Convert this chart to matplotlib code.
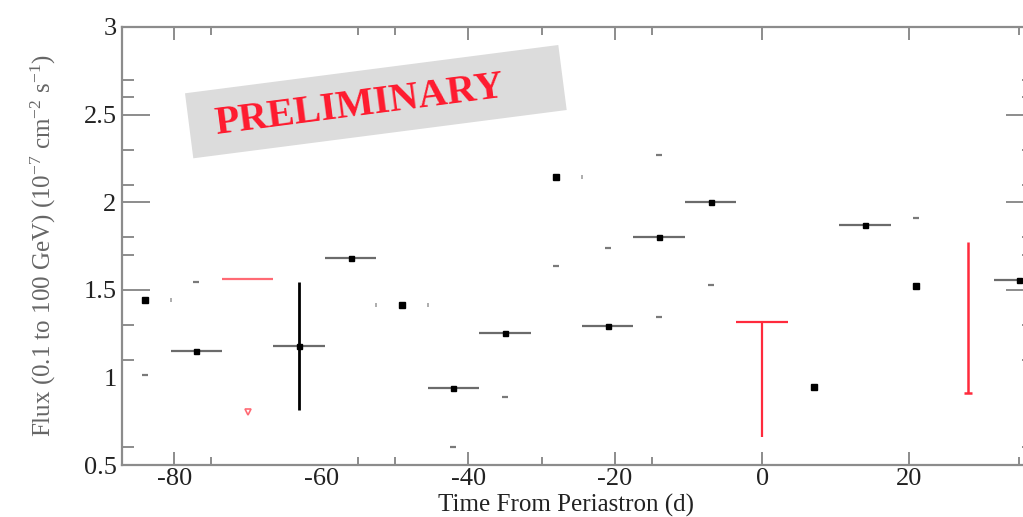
import numpy as np
import matplotlib
matplotlib.use('Agg')
import matplotlib.pyplot as plt
from matplotlib.patches import Polygon

plt.rcParams['font.family'] = ['Liberation Serif', 'DejaVu Serif']
plt.rcParams['mathtext.fontset'] = 'custom'
plt.rcParams['mathtext.rm'] = 'Liberation Serif'
plt.rcParams['mathtext.it'] = 'Liberation Serif:italic'
plt.rcParams['axes.unicode_minus'] = False

# weekly bins, days from periastron
half_bin = 3.5

# detections drawn with their bin width
t_bar = [-77, -63, -56, -42, -35, -21, -14, -7, 14, 35]
f_bar = [1.15, 1.18, 1.68, 0.94, 1.252, 1.295, 1.80, 2.00, 1.868, 1.555]

# detections drawn as bare points
t_pt = [-84, -49, -28, 7, 21]
f_pt = [1.442, 1.413, 2.142, 0.943, 1.522]

# ends of the flux errors that survive in the plot
cap_t = [-84, -77, -42, -35, -28, -28, -21, -14, -14, -7, 21]
cap_f = [1.014, 1.543, 0.604, 0.89, 2.64, 1.634, 1.74, 2.271, 1.346, 1.527, 1.908]

# bin edges marked on the bare points (bin centre, side)
edge_t = [-84, -49, -49, -28]
edge_side = [1, -1, 1, 1]
edge_f = [1.442, 1.413, 1.413, 2.142]

# full error bar of the -63 d bin
err_t = -63
err_lo, err_hi = 0.814, 1.546

# upper limits
ul_t = [-70, 0, 28]
ul_top = [1.56, 1.315, 1.775]
ul_bot = [0.804, 0.662, 0.913]

xticks = [-80, -60, -40, -20, 0, 20]
xminor = [-75, -55, -50, -30, -15, 35]
yticks = [0.5, 1, 1.5, 2, 2.5, 3]
yminor = [0.6, 1.1, 1.3, 1.7, 1.8, 2.1, 2.3, 2.6, 2.7]

grey = '#8c8c8c'
red = '#ff2a3c'

fig = plt.figure(figsize=(10.23, 5.17), dpi=100)
ax = fig.add_axes([122 / 1023, 52 / 517, 912 / 1023, 438 / 517])

ax.errorbar(t_bar, f_bar, xerr=half_bin, fmt='s', ms=3.6, color='black',
            ecolor='#6b6b6b', elinewidth=1.6, capsize=0, zorder=3)
ax.vlines(err_t, err_lo, err_hi, color='black', lw=2.0, zorder=2)
ax.plot(t_pt, f_pt, ls='none', marker='s', ms=3.8, color='black', zorder=3)
ax.plot(cap_t, cap_f, ls='none', marker='_', ms=4.5, mew=1.6, color='#7a7a7a', zorder=2)
ax.plot(np.array(edge_t) + half_bin * np.array(edge_side), edge_f, ls='none',
        marker='|', ms=3.5, mew=1.2, color='#a0a0a0', zorder=2)

# upper limits
ax.hlines(ul_top[0], ul_t[0] - half_bin, ul_t[0] + half_bin, color='#ff6a74', lw=1.6)
ax.plot(ul_t[0], ul_bot[0], ls='none', marker='v', ms=4, mfc='none', mew=1.2, color='#ff6a74')
ax.hlines(ul_top[1], ul_t[1] - half_bin, ul_t[1] + half_bin, color=red, lw=1.6)
ax.vlines(ul_t[1], ul_bot[1], ul_top[1], color=red, lw=1.6)
ax.vlines(ul_t[2], ul_bot[2], ul_top[2], color=red, lw=1.8)
ax.plot(ul_t[2], ul_bot[2], ls='none', marker='_', ms=6, mew=1.8, color=red)

ax.set_xlim(-87.1, 37.0)
ax.set_ylim(0.5, 3)

for s in ax.spines.values():
    s.set_color(grey)
    s.set_linewidth(1.6)

ax.set_xticks(xticks)
ax.set_xticks(xminor, minor=True)
ax.set_yticks(yticks)
ax.set_yticks(yminor, minor=True)
ax.set_yticklabels(['0.5', '1', '1.5', '2', '2.5', '3'])
ax.tick_params(axis='both', which='both', direction='in', top=True, right=True,
               color=grey, width=1.4, labelcolor='#222222', labelsize=19)
ax.tick_params(axis='x', which='major', length=9.6, pad=2.5)
ax.tick_params(axis='x', which='minor', length=5.8)
ax.tick_params(axis='y', which='major', length=20, pad=4)
ax.tick_params(axis='y', which='minor', length=8.4)

# a few tick marks are missing or darker
xt = ax.xaxis.get_major_ticks()
xt[1].tick1line.set_visible(False)
xt[1].tick2line.set_visible(False)
xt[4].tick2line.set_color('#333333')
xt[5].tick2line.set_color('#333333')
yt = ax.yaxis.get_major_ticks()
yt[1].tick1line.set_visible(False)
yt[1].tick2line.set_visible(False)
yt[2].tick1line.set_color('black')
yt[2].tick2line.set_color('black')
ym = ax.yaxis.get_minor_ticks()
ym[6].tick1line.set_color('black')

ax.text(0.487, -0.1073, 'Time From Periastron (d)', transform=ax.transAxes,
        ha='center', va='baseline', fontsize=18, color='#222222')
ax.text(-0.0866, 0.502, 'Flux (0.1 to 100 GeV) (10$^{-7}$ cm$^{-2}$ s$^{-1}$)',
        transform=ax.transAxes, rotation=90, ha='center', va='center',
        fontsize=18, color='#666666')

# preliminary stamp
corners = [(185, 93.3), (558.3, 45), (566.7, 110), (193.3, 158.3)]
stamp = Polygon([(x / 1023, 1 - y / 517) for x, y in corners], closed=True,
                transform=fig.transFigure, facecolor='#dcdcdc', edgecolor='none', zorder=1)
fig.patches.append(stamp)
fig.text(360 / 1023, 1 - 106 / 517, 'PRELIMINARY', rotation=7.4, ha='center', va='center',
         rotation_mode='anchor', fontsize=29, fontweight='bold', color='#ff1a2e')

fig.savefig('out.png', dpi=100)
